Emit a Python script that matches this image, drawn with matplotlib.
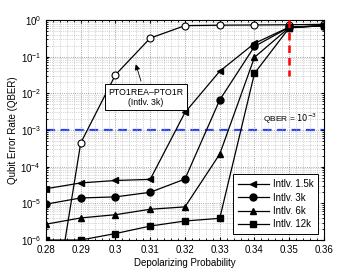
import matplotlib
matplotlib.use("Agg")
import matplotlib.pyplot as plt
import numpy as np
from matplotlib.ticker import LogLocator, MultipleLocator, NullFormatter, FixedLocator

plt.rcParams['font.family'] = ['Liberation Sans', 'DejaVu Sans']

p = [0.28, 0.29, 0.30, 0.31, 0.32, 0.33, 0.34, 0.35, 0.36]
pto_3k = [6e-10, 4.4e-4, 0.032, 0.32, 0.70, 0.72, 0.73, 0.74, 0.76]
intlv_1_5k = [2.5e-5, 3.6e-5, 4.2e-5, 4.5e-5, 3.0e-3, 0.04, 0.23, 0.64, 0.70]
intlv_3k = [9.5e-6, 1.4e-5, 1.5e-5, 2.0e-5, 4.6e-5, 6.6e-3, 0.19, 0.63, 0.70]
intlv_6k = [2.7e-6, 4.0e-6, 4.9e-6, 6.9e-6, 8.0e-6, 2.2e-4, 0.096, 0.62, 0.70]
intlv_12k = [1.0e-6, 1.0e-6, 1.5e-6, 2.4e-6, 3.3e-6, 3.9e-6, 0.035, 0.61, 0.70]
labels = ['Intlv. 1.5k', 'Intlv. 3k', 'Intlv. 6k', 'Intlv. 12k']
xtick_labels = ['0.28', '0.29', '0.3', '0.31', '0.32', '0.33', '0.34', '0.35', '0.36']
qber_target = 1e-3

fig = plt.figure(figsize=(3.59, 2.72), dpi=100)
ax = fig.add_axes([0.128, 0.1176, 0.7745, 0.809])

ax.plot(p, pto_3k, '-o', color='black', mfc='white', mec='black', ms=5, lw=0.9, mew=0.8, clip_on=True)
series = [intlv_1_5k, intlv_3k, intlv_6k, intlv_12k]
mk = ['<', 'o', '^', 's']
for s, m, lab in zip(series, mk, labels):
    ax.plot(p, s, '-', marker=m, color='black', ms=5, lw=0.9, label=lab, clip_on=True)

ax.axhline(qber_target, color='#1f3fff', ls=(0, (4, 2.5)), lw=1.6, zorder=1)
ax.plot([0.35, 0.35], [1.0, 0.03], color='red', ls=(0, (3, 2)), lw=1.8, zorder=3)

ax.text(0.3425, 1.25e-3, r'QBER = $10^{-3}$', fontsize=6, va='bottom', ha='left')

ax.annotate('PTO1REA\u2013PTO1R\n(Intlv. 3k)', xy=(0.3056, 0.073), xytext=(0.3088, 0.0078),
            fontsize=6.3, ha='center', va='center', multialignment='center',
            bbox=dict(boxstyle='square,pad=0.4', fc='white', ec='black', lw=0.7),
            arrowprops=dict(arrowstyle='-|>', color='black', lw=0.6, mutation_scale=8))

ax.set_yscale('log')
ax.set_xlim(0.28, 0.36)
ax.set_ylim(1e-6, 1)
ax.xaxis.set_major_locator(FixedLocator(p))
ax.xaxis.set_minor_locator(MultipleLocator(0.002))
ax.set_xticklabels(xtick_labels)
ax.yaxis.set_major_locator(LogLocator(base=10, numticks=10))
ax.yaxis.set_minor_locator(LogLocator(base=10, subs=np.arange(2, 10), numticks=20))
ax.yaxis.set_minor_formatter(NullFormatter())
ax.grid(True, which='major', ls=':', color='#888888', lw=0.6)
ax.grid(True, which='minor', ls=':', color='#b0b0b0', lw=0.5)
ax.tick_params(which='both', direction='in', top=True, right=True, labelsize=7, length=2.5)
ax.tick_params(which='minor', length=1.5)
for sp in ax.spines.values():
    sp.set_linewidth(0.8)

ax.set_xlabel('Depolarizing Probability', fontsize=7, labelpad=2)
ax.set_ylabel('Qubit Error Rate (QBER)', fontsize=7, labelpad=2)

leg = ax.legend(loc='lower right', fontsize=7, handlelength=3.2, fancybox=False,
                framealpha=1, edgecolor='black', borderpad=0.5, labelspacing=0.35,
                handletextpad=0.4, borderaxespad=0.6)
leg.get_frame().set_linewidth(0.7)

fig.savefig('out.png', dpi=100)
